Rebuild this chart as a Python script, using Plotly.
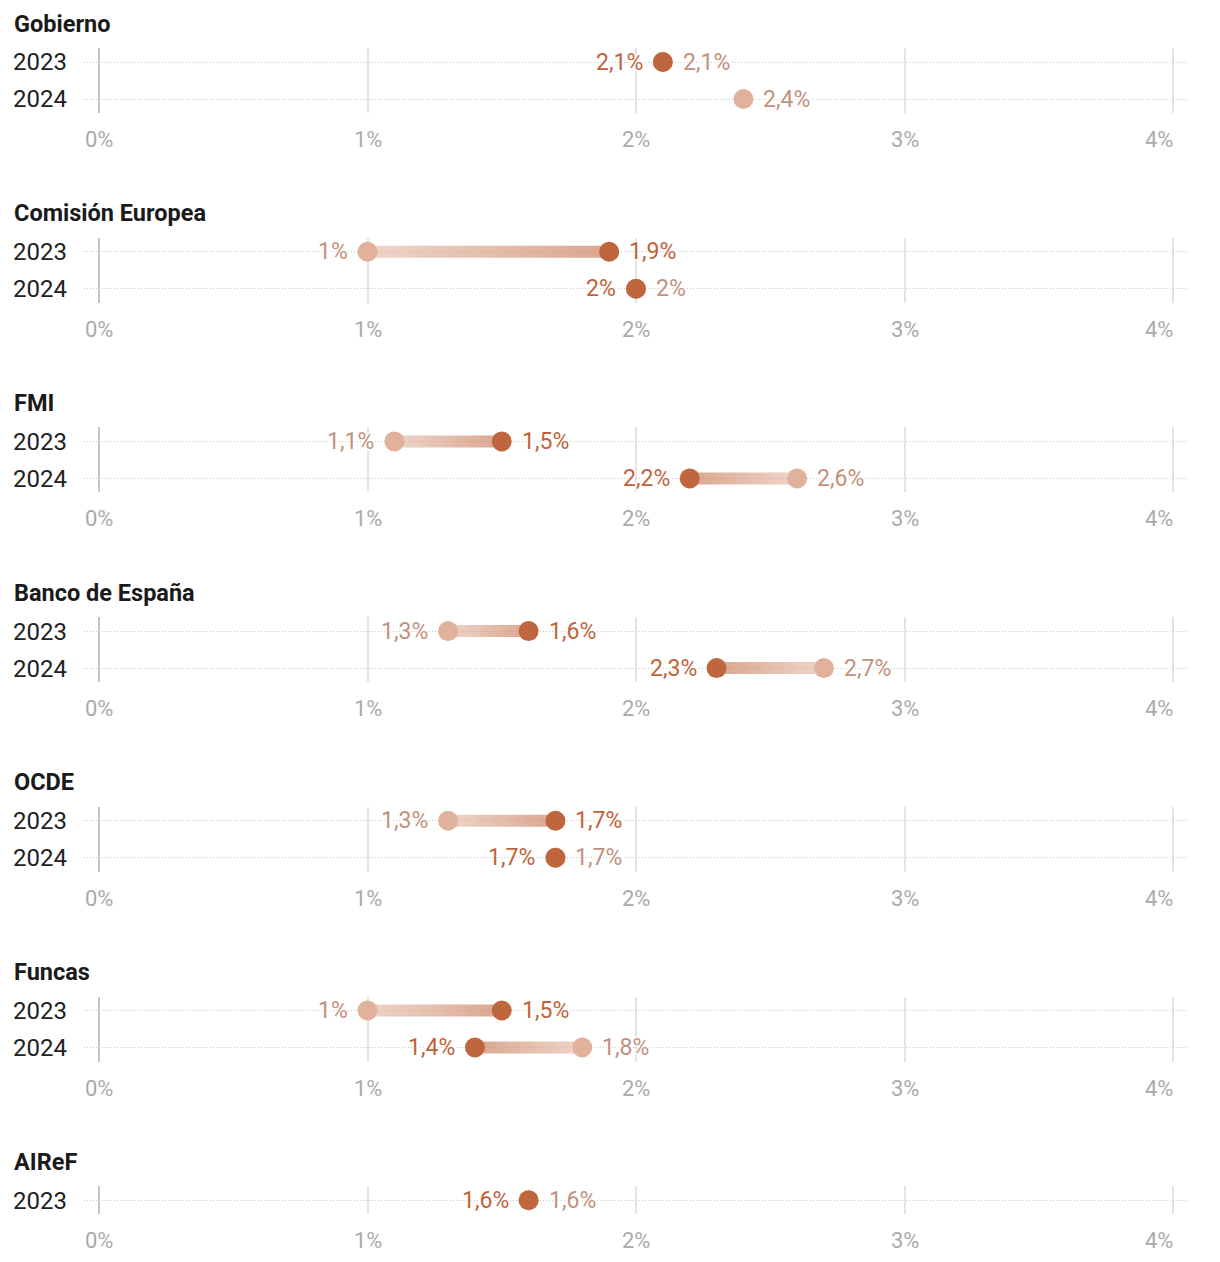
import plotly.graph_objects as go

# ---------------- data ----------------
instituciones = ["Gobierno", "Comisión Europea", "FMI", "Banco de España", "OCDE", "Funcas", "AIReF"]
anios = [[2023, 2024], [2023, 2024], [2023, 2024], [2023, 2024], [2023, 2024], [2023, 2024], [2023]]
# previsión anterior (punto claro)
prevision_anterior = [[2.1, 2.4], [1.0, 2.0], [1.1, 2.6], [1.3, 2.7], [1.3, 1.7], [1.0, 1.8], [1.6]]
# previsión actual (punto oscuro)
prevision_actual = [[2.1, None], [1.9, 2.0], [1.5, 2.2], [1.6, 2.3], [1.7, 1.7], [1.5, 1.4], [1.6]]
eje_valores = [0, 1, 2, 3, 4]
eje_etiquetas = ["0%", "1%", "2%", "3%", "4%"]

# ---------------- style ----------------
OFF = 8                      # page body margin
W, H = 1220 - OFF, 1262 - OFF
FIRST_ROW = 62 - OFF
PANEL_STEP = 189.7
ROW_STEP = 37
PAD = 14
X_LEFT, X_RIGHT = 84 - OFF, 1186 - OFF
X0_PX, PX_PER_UNIT = 99 - OFF, 268.5
XRANGE = [(X_LEFT - X0_PX) / PX_PER_UNIT, (X_RIGHT - X0_PX) / PX_PER_UNIT]

DARK = "#c0663e"
LIGHT = "#e0b29c"
DARK_TXT = "#c0633a"
LIGHT_TXT = "#c2917d"
BAR_DARK = "rgba(192,102,62,0.58)"
BAR_LIGHT = "rgba(224,178,156,0.55)"
FONT = "Roboto"
BAR_HALF = 6 / ROW_STEP
HALO = "-1px -1px 0 #fff, 1px -1px 0 #fff, -1px 1px 0 #fff, 1px 1px 0 #fff, 0 0 3px #fff"


def fmt(v):
    s = f"{v:.1f}".rstrip("0").rstrip(".")
    return s.replace(".", ",") + "%"


fig = go.Figure()
annotations = []
layout_axes = {}

for i, inst in enumerate(instituciones):
    n = len(anios[i])
    suffix = "" if i == 0 else str(i + 1)
    xa, ya = "x" + suffix, "y" + suffix
    row1 = FIRST_ROW + PANEL_STEP * i
    top_px = row1 - PAD
    bot_px = row1 + ROW_STEP * (n - 1) + PAD

    for r in range(n):
        a = prevision_anterior[i][r]
        b = prevision_actual[i][r]
        # gradient bar
        if a is not None and b is not None and a != b:
            lo, hi = min(a, b), max(a, b)
            cs = [[0, BAR_LIGHT], [1, BAR_DARK]] if a < b else [[0, BAR_DARK], [1, BAR_LIGHT]]
            fig.add_trace(go.Scatter(
                x=[lo, hi, hi, lo, lo],
                y=[r - BAR_HALF, r - BAR_HALF, r + BAR_HALF, r + BAR_HALF, r - BAR_HALF],
                mode="lines", line=dict(width=0), fill="toself",
                fillgradient=dict(type="horizontal", colorscale=cs),
                hoverinfo="skip", showlegend=False, xaxis=xa, yaxis=ya))
        # dots
        if a is not None:
            fig.add_trace(go.Scatter(x=[a], y=[r], mode="markers",
                                     marker=dict(size=20, color=LIGHT, line=dict(width=0)),
                                     showlegend=False, xaxis=xa, yaxis=ya))
        if b is not None:
            fig.add_trace(go.Scatter(x=[b], y=[r], mode="markers",
                                     marker=dict(size=20, color=DARK, line=dict(width=0)),
                                     showlegend=False, xaxis=xa, yaxis=ya))
        # labels
        pts = []
        if b is not None:
            pts.append((b, 0, DARK_TXT))
        if a is not None:
            pts.append((a, 1, LIGHT_TXT))
        pts.sort(key=lambda p: (p[0], p[1]))
        if len(pts) == 1:
            left, right = None, pts[0]
        else:
            left, right = pts[0], pts[-1]
        if left is not None:
            annotations.append(dict(x=left[0], y=r, xref=xa, yref=ya, text=fmt(left[0]),
                                    showarrow=False, xanchor="right", yanchor="middle",
                                    xshift=-18, font=dict(family=FONT, size=23, color=left[2],
                                                          shadow=HALO)))
        annotations.append(dict(x=right[0], y=r, xref=xa, yref=ya, text=fmt(right[0]),
                                showarrow=False, xanchor="left", yanchor="middle",
                                xshift=18, font=dict(family=FONT, size=23, color=right[2],
                                                     shadow=HALO)))

    # title
    annotations.append(dict(x=(12 - OFF) / W, y=1 - (row1 - 38.5) / H, xref="paper", yref="paper",
                            text=f"<b>{inst}</b>", showarrow=False, xanchor="left",
                            yanchor="middle", font=dict(family=FONT, size=23.5, color="#1a1a1a")))

    # x tick labels (last one right-aligned to its gridline)
    tick_y = 1 - (bot_px + 26.5) / H
    for k, (tv, tt) in enumerate(zip(eje_valores, eje_etiquetas)):
        last = k == len(eje_valores) - 1
        annotations.append(dict(x=tv, y=tick_y, xref=xa, yref="paper", text=tt,
                                showarrow=False, xanchor="right" if last else "center",
                                xshift=2 if last else 0,
                                yanchor="middle",
                                font=dict(family=FONT, size=22, color="#aaaaaa")))

    layout_axes["xaxis" + suffix] = dict(
        domain=[X_LEFT / W, X_RIGHT / W], range=XRANGE, anchor=ya,
        tickvals=eje_valores, showticklabels=False, ticks="",
        showgrid=True, gridcolor="#e4e4e4", gridwidth=2,
        zeroline=True, zerolinecolor="#c6c6c6", zerolinewidth=2,
        showline=False, fixedrange=True)
    layout_axes["yaxis" + suffix] = dict(
        domain=[1 - bot_px / H, 1 - top_px / H],
        range=[(n - 1) + PAD / ROW_STEP, -PAD / ROW_STEP], anchor=xa,
        tickvals=list(range(n)), ticktext=[str(y) for y in anios[i]], ticks="",
        tickfont=dict(family=FONT, size=24, color="#222222"),
        showgrid=True, gridcolor="#c8c8c8", gridwidth=1, griddash="1px,2px",
        zeroline=False, showline=False, fixedrange=True, ticklabelstandoff=16)

fig.update_layout(
    width=W, height=H,
    margin=dict(l=0, r=0, t=0, b=0),
    paper_bgcolor="white", plot_bgcolor="white",
    font=dict(family=FONT),
    showlegend=False,
    annotations=annotations,
    **layout_axes)

fig.write_html("out.html")
